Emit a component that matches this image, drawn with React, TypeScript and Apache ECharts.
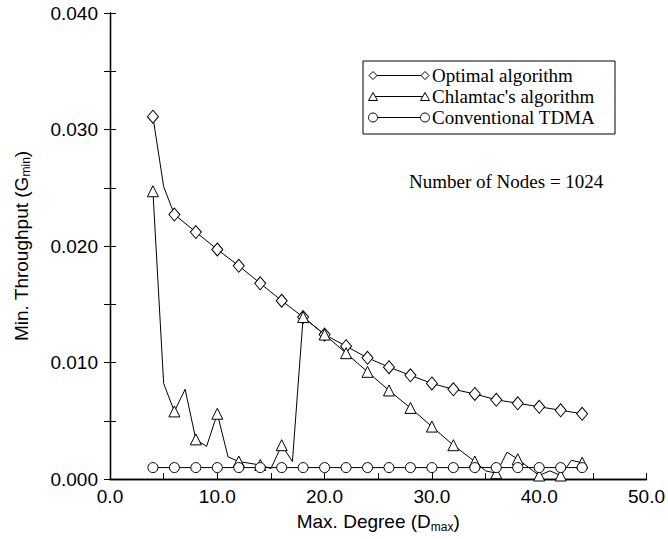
import React, { useEffect, useRef } from "react";
import * as echarts from "echarts";

// Optimal algorithm
const optimalX = [4, 5, 6, 8, 10, 12, 14, 16, 18, 20, 22, 24, 26, 28, 30, 32, 34, 36, 38, 40, 42, 44];
const optimalY = [0.0311, 0.0251, 0.0227, 0.0212, 0.0197, 0.0183, 0.0168, 0.0153, 0.0139, 0.0124, 0.0114, 0.0104, 0.0096, 0.0089, 0.0082, 0.0077, 0.0073, 0.0068, 0.0065, 0.0062, 0.0059, 0.0056];

// Chlamtac's algorithm
const chlamtacX = [4, 5, 6, 7, 8, 9, 10, 11, 12, 14, 15, 16, 17, 18, 20, 22, 24, 26, 28, 30, 32, 34, 35, 36, 37, 38, 40, 41, 42, 43, 44];
const chlamtacY = [0.0247, 0.0082, 0.0058, 0.0077, 0.0034, 0.0028, 0.0056, 0.0019, 0.0015, 0.0012, 0.0009, 0.0029, 0.0015, 0.0139, 0.0124, 0.0108, 0.0092, 0.0076, 0.0061, 0.0045, 0.0029, 0.0015, 0.0007, 0.0005, 0.0023, 0.0017, 0.0003, 0.0007, 0.0003, 0.0016, 0.0014];

// Conventional TDMA
const tdmaX = [4, 6, 8, 10, 12, 14, 16, 18, 20, 22, 24, 26, 28, 30, 32, 34, 36, 38, 40, 42, 44];
const tdmaY = [0.00098, 0.00098, 0.00098, 0.00098, 0.00098, 0.00098, 0.00098, 0.00098, 0.00098, 0.00098, 0.00098, 0.00098, 0.00098, 0.00098, 0.00098, 0.00098, 0.00098, 0.00098, 0.00098, 0.00098, 0.00098];

const legendNames = ["Optimal algorithm", "Chlamtac's algorithm", "Conventional TDMA"];
const annotation = "Number of Nodes = 1024";

const SANS = "'Liberation Sans', Arial, sans-serif";
const SERIF = "'Liberation Serif', 'Times New Roman', serif";

function toData(xs: number[], ys: number[]) {
  return xs.map((x, i) => ({
    value: [x, ys[i]],
    symbol: x % 2 === 0 ? undefined : "none",
  }));
}

function legendGraphics() {
  const els: any[] = [];
  const boxX = 363, boxY = 61, boxW = 252, boxH = 73;
  els.push({
    type: "rect",
    shape: { x: boxX, y: boxY, width: boxW, height: boxH },
    style: { fill: "#fff", stroke: "#000", lineWidth: 1 },
    z: 100,
  });
  const rows = [75.5, 96.5, 117.5];
  const x1 = 373, x2 = 425;
  rows.forEach((cy, i) => {
    els.push({
      type: "line",
      shape: { x1, y1: cy, x2, y2: cy },
      style: { stroke: "#000", lineWidth: 1 },
      z: 101,
    });
    [x1, x2].forEach((cx) => {
      if (i === 0) {
        els.push({
          type: "polygon",
          shape: { points: [[cx - 4, cy], [cx, cy - 4], [cx + 4, cy], [cx, cy + 4]] },
          style: { fill: "#fff", stroke: "#000", lineWidth: 1 },
          z: 102,
        });
      } else if (i === 1) {
        els.push({
          type: "polygon",
          shape: { points: [[cx - 4.5, cy + 4], [cx, cy - 4], [cx + 4.5, cy + 4]] },
          style: { fill: "#fff", stroke: "#000", lineWidth: 1 },
          z: 102,
        });
      } else {
        els.push({
          type: "circle",
          shape: { cx, cy, r: 4.5 },
          style: { fill: "#fff", stroke: "#000", lineWidth: 1 },
          z: 102,
        });
      }
    });
    els.push({
      type: "text",
      x: 432,
      y: cy,
      style: {
        text: legendNames[i],
        font: `19px ${SERIF}`,
        fill: "#000",
        verticalAlign: "middle",
        align: "left",
      },
      z: 102,
    });
  });
  els.push({
    type: "text",
    x: 409,
    y: 181,
    style: {
      text: annotation,
      font: `19px ${SERIF}`,
      fill: "#000",
      verticalAlign: "middle",
      align: "left",
    },
    z: 102,
  });
  return els;
}

export default function App() {
  const ref = useRef<HTMLDivElement>(null);
  useEffect(() => {
    if (!ref.current) return;
    const chart = echarts.init(ref.current, null, { renderer: "svg" });
    const axisLineStyle = { color: "#000", width: 1.3 };
    const tickCommon = { show: true, inside: true, length: 6, lineStyle: { color: "#000", width: 1 } };
    const minorCommon = { show: true, splitNumber: 2, length: 6, lineStyle: { color: "#000", width: 1 } };
    const seriesCommon = {
      type: "line" as const,
      symbolSize: 10,
      lineStyle: { color: "#000", width: 1 },
      itemStyle: { color: "#fff", borderColor: "#000", borderWidth: 1 },
      emphasis: { disabled: true },
      z: 3,
    };
    chart.setOption({
      animation: false,
      backgroundColor: "#fff",
      grid: { left: 110, right: 19, top: 13, bottom: 60, containLabel: false },
      xAxis: [
        {
          type: "value",
          min: 0,
          max: 50,
          interval: 10,
          position: "bottom",
          axisLine: { show: true, lineStyle: axisLineStyle },
          axisTick: tickCommon,
          minorTick: minorCommon,
          splitLine: { show: false },
          axisLabel: {
            color: "#000",
            fontFamily: SANS,
            fontSize: 19,
            margin: 8,
            formatter: (v: number) => v.toFixed(1),
          },
          name: "Max. Degree (D{sub|max})",
          nameLocation: "middle",
          nameGap: 24,
          nameTextStyle: {
            color: "#000",
            fontFamily: SANS,
            fontSize: 19,
            lineHeight: 22,
            rich: {
              sub: { fontFamily: SANS, fontSize: 12, lineHeight: 8, verticalAlign: "bottom", color: "#000" },
            },
          },
        },
        {
          type: "value",
          min: 0,
          max: 50,
          interval: 10,
          position: "top",
          axisLine: { show: true, lineStyle: axisLineStyle },
          axisTick: { show: false },
          minorTick: { show: false },
          splitLine: { show: false },
          axisLabel: { show: false },
        },
      ],
      yAxis: [
        {
          type: "value",
          min: 0,
          max: 0.04,
          interval: 0.01,
          position: "left",
          axisLine: { show: true, lineStyle: axisLineStyle },
          axisTick: tickCommon,
          minorTick: minorCommon,
          splitLine: { show: false },
          axisLabel: {
            color: "#000",
            fontFamily: SANS,
            fontSize: 19,
            margin: 12,
            formatter: (v: number) => v.toFixed(3),
          },
          name: "Min. Throughput (G{sub|min})",
          nameLocation: "middle",
          nameGap: 78,
          nameRotate: 90,
          nameTextStyle: {
            color: "#000",
            fontFamily: SANS,
            fontSize: 19,
            lineHeight: 22,
            rich: {
              sub: { fontFamily: SANS, fontSize: 12, lineHeight: 8, verticalAlign: "bottom", color: "#000" },
            },
          },
        },
        {
          type: "value",
          min: 0,
          max: 0.04,
          interval: 0.01,
          position: "right",
          axisLine: { show: true, lineStyle: axisLineStyle },
          axisTick: tickCommon,
          minorTick: minorCommon,
          splitLine: { show: false },
          axisLabel: { show: false },
        },
      ],
      series: [
        {
          ...seriesCommon,
          name: legendNames[0],
          symbol: "diamond",
          symbolSize: [11, 13],
          data: toData(optimalX, optimalY),
        },
        {
          ...seriesCommon,
          name: legendNames[1],
          symbol: "triangle",
          symbolSize: [11, 11],
          data: toData(chlamtacX, chlamtacY),
        },
        {
          ...seriesCommon,
          name: legendNames[2],
          symbol: "circle",
          symbolSize: 10,
          data: toData(tdmaX, tdmaY),
        },
      ],
      graphic: legendGraphics(),
    });
    return () => chart.dispose();
  }, []);
  return <div ref={ref} style={{ width: 668, height: 539, position: "absolute", left: 0, top: 0 }} />;
}
